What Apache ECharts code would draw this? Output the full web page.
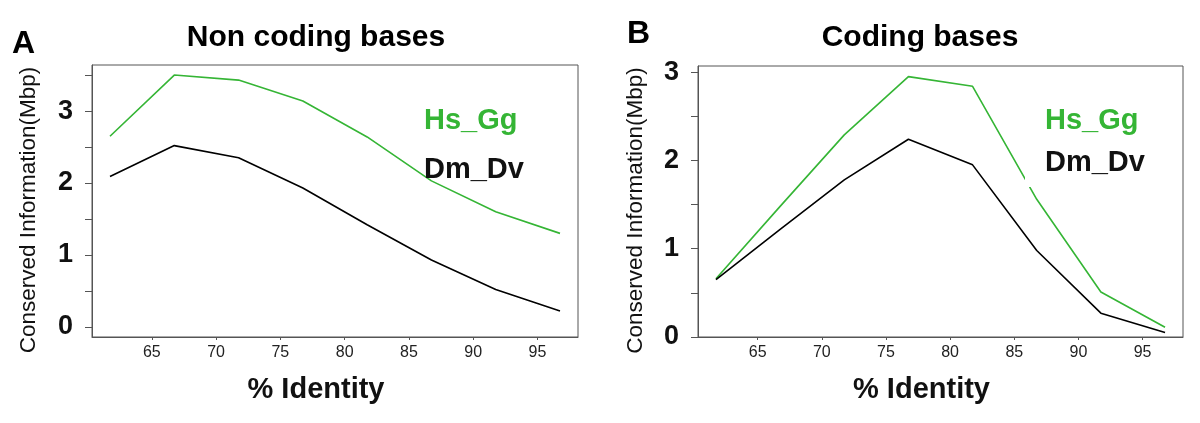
<!DOCTYPE html>
<html>
<head>
<meta charset="utf-8">
<script src="https://cdn.jsdelivr.net/npm/echarts@6/dist/echarts.min.js"></script>
<style>
html,body{margin:0;padding:0;background:#fff;}
#chart{width:1200px;height:423px;}
</style>
</head>
<body>
<div id="chart"></div>
<script>
// ---- data ----
const identity = [61.75, 66.75, 71.75, 76.75, 81.75, 86.75, 91.75, 96.75];
const nonCodingHsGg = [2.65, 3.50, 3.43, 3.14, 2.64, 2.03, 1.60, 1.30];
const nonCodingDmDv = [2.09, 2.52, 2.35, 1.93, 1.42, 0.93, 0.52, 0.22];
const codingHsGg = [0.66, 1.48, 2.29, 2.95, 2.84, 1.56, 0.51, 0.11];
const codingDmDv = [0.65, 1.22, 1.78, 2.24, 1.95, 0.98, 0.27, 0.05];
const xTickLabels = [65, 70, 75, 80, 85, 90, 95];
const yTicks = [0, 0.5, 1, 1.5, 2, 2.5, 3, 3.5];
const yTicksB = [0, 0.5, 1, 1.5, 2, 2.5, 3];
const yTickLabels = [0, 1, 2, 3];
const seriesNames = ['Hs_Gg', 'Dm_Dv'];
const panelTitles = ['Non coding bases', 'Coding bases'];
const panelLetters = ['A', 'B'];
const yName = 'Conserved Information(Mbp)';
const xName = '% Identity';

const GREEN = '#35b535';
const FONT = '"Liberation Sans", Arial, Helvetica, sans-serif';
const pairs = (xs, ys) => xs.map((x, i) => [x, ys[i]]);

const chart = echarts.init(document.getElementById('chart'), null, {renderer: 'canvas'});

function xAxisCfg(gridIndex) {
  return {
    type: 'value', gridIndex, min: 60.35, max: 98.15,
    splitLine: {show: false},
    axisLine: {show: true, onZero: false, lineStyle: {color: '#555', width: 1}},
    axisTick: {show: true, length: 3, customValues: xTickLabels, lineStyle: {color: '#555'}},
    axisLabel: {customValues: xTickLabels, color: '#222', fontSize: 16, fontFamily: FONT, margin: 8},
    name: xName, nameLocation: 'middle', nameGap: 38,
    nameTextStyle: {fontSize: 29, fontWeight: 'bold', color: '#111', fontFamily: FONT, padding: [0, 38, 0, 0]}
  };
}
function yAxisCfg(gridIndex, min, max, ticks, gap) {
  return {
    type: 'value', gridIndex, min, max,
    splitLine: {show: false},
    axisLine: {show: true, onZero: false, lineStyle: {color: '#555', width: 1}},
    axisTick: {show: true, length: 7, customValues: ticks, lineStyle: {color: '#555'}},
    axisLabel: {customValues: yTickLabels, color: '#111', fontSize: 27, fontWeight: 'bold', fontFamily: FONT, margin: 19},
    name: yName, nameLocation: 'middle', nameRotate: 90, nameGap: gap,
    nameTextStyle: {fontSize: 22.5, color: '#111', fontFamily: FONT, padding: [0, 18, 0, 0]}
  };
}
function lineSeries(name, xi, data, color) {
  return {
    type: 'line', name, xAxisIndex: xi, yAxisIndex: xi, data,
    showSymbol: false, symbol: 'none', smooth: false,
    lineStyle: {color, width: 1.6}, itemStyle: {color},
    silent: true, animation: false
  };
}
function legendCfg(left, top, gap, bg, padding) {
  return {
    show: true, orient: 'vertical', left, top, itemGap: gap,
    icon: 'none', itemWidth: 0, itemHeight: 10, selectedMode: false,
    backgroundColor: bg, padding,
    textStyle: {fontSize: 29, fontWeight: 'bold', fontFamily: FONT, lineHeight: 30},
    data: [
      {name: seriesNames[0], textStyle: {color: GREEN}},
      {name: seriesNames[1], textStyle: {color: '#111'}}
    ]
  };
}

const option = {
  backgroundColor: '#fff',
  animation: false,
  grid: [
    {left: 92, top: 65, width: 486, height: 272, show: true, borderColor: '#555', borderWidth: 1, backgroundColor: 'transparent'},
    {left: 698, top: 66, width: 485, height: 271, show: true, borderColor: '#555', borderWidth: 1, backgroundColor: 'transparent'}
  ],
  xAxis: [xAxisCfg(0), xAxisCfg(1)],
  yAxis: [yAxisCfg(0, -0.14, 3.64, yTicks, 52), yAxisCfg(1, 0, 3.07, yTicksB, 51)],
  legend: [
    legendCfg(419, 106, 19, 'transparent', 0),
    legendCfg(1025, 101, 12, '#fff', [5, 10, 9, 15])
  ],
  series: [
    lineSeries(seriesNames[0], 0, pairs(identity, nonCodingHsGg), GREEN),
    lineSeries(seriesNames[1], 0, pairs(identity, nonCodingDmDv), '#000'),
    lineSeries(seriesNames[0], 1, pairs(identity, codingHsGg), GREEN),
    lineSeries(seriesNames[1], 1, pairs(identity, codingDmDv), '#000')
  ],
  graphic: [
    {type: 'text', left: 12, top: 28, style: {text: panelLetters[0], font: 'bold 32px ' + FONT, fill: '#000'}},
    {type: 'text', left: 627, top: 18, style: {text: panelLetters[1], font: 'bold 32px ' + FONT, fill: '#000'}},
    {type: 'text', x: 316, y: 38, style: {text: panelTitles[0], font: 'bold 30px ' + FONT, fill: '#000', align: 'center', verticalAlign: 'middle'}},
    {type: 'text', x: 920, y: 38, style: {text: panelTitles[1], font: 'bold 30px ' + FONT, fill: '#000', align: 'center', verticalAlign: 'middle'}}
  ]
};
chart.setOption(option);
</script>
</body>
</html>
